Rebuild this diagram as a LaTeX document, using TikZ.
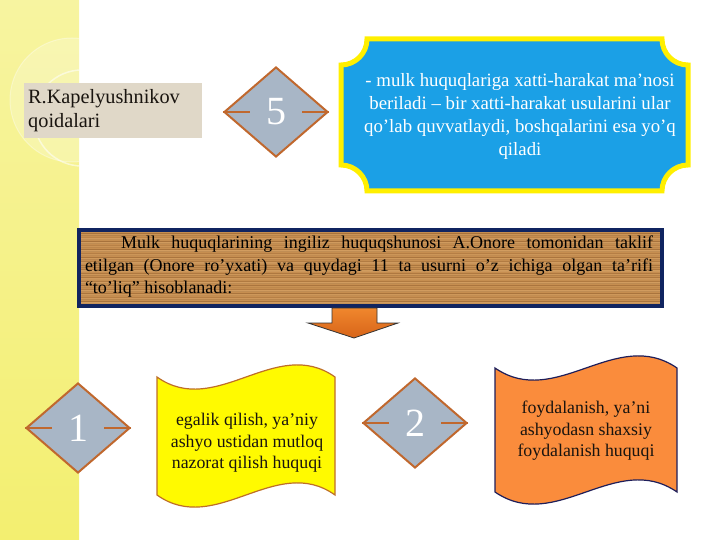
\documentclass[tikz,border=0pt]{standalone}
\usepackage{fontspec}
\setmainfont{Liberation Serif}
\usetikzlibrary{shapes.geometric}
\definecolor{stripY}{RGB}{243,239,112}
\definecolor{stripL}{RGB}{247,244,160}
\definecolor{diaFill}{RGB}{168,182,198}
\definecolor{diaEdge}{RGB}{192,104,46}
\definecolor{plaqueBlue}{RGB}{27,160,230}
\definecolor{plaqueEdge}{RGB}{255,239,0}
\definecolor{woodA}{RGB}{198,142,80}
\definecolor{woodD}{RGB}{130,80,35}
\definecolor{woodL}{RGB}{228,180,120}
\definecolor{navyEdge}{RGB}{16,36,96}
\definecolor{beige}{RGB}{224,216,200}
\definecolor{waveY}{RGB}{255,250,0}
\definecolor{waveYEdge}{RGB}{190,110,40}
\definecolor{waveO}{RGB}{250,140,60}
\definecolor{waveOEdge}{RGB}{30,30,90}
\definecolor{arrO}{RGB}{240,135,45}
\definecolor{arrOD}{RGB}{215,100,25}
\definecolor{txtDark}{RGB}{25,20,15}
\begin{document}
\begin{tikzpicture}[x=1pt,y=-1pt,
  diabox/.style={diamond, draw=diaEdge, fill=diaFill, line width=2pt,
    minimum width=104, minimum height=90, inner sep=0pt, text=white,
    font=\fontsize{40}{44}\selectfont},
  dline/.style={diaEdge, line width=2.4pt},
  bodytxt/.style={text=txtDark, align=center, font=\fontsize{17.8}{21.5}\selectfont}]
\useasboundingbox (0,0) rectangle (720,540);

% left strip
\begin{scope}
  \clip (0,0) rectangle (79,540);
  \shade[top color=stripL, bottom color=stripY] (0,0) rectangle (79,540);
  \fill[white, opacity=0.22] (72,100) circle (62);
  \draw[white, opacity=0.55, line width=1.5pt] (82,118) circle (48);
  \draw[white, opacity=0.35, line width=1pt] (72,100) circle (62);
\end{scope}

% Kapelyushnikov box
\node[fill=beige, minimum width=178, minimum height=55, anchor=north west,
  text width=170, align=left, inner sep=4pt, text=txtDark,
  font=\fontsize{20.3}{23.5}\selectfont] (kap) at (24,83) {R.Kapelyushnikov\\qoidalari};

% diamonds
\node[diabox] (d5) at (276,112) {5};
\draw[dline] (d5.west) -- ++(27,0);
\draw[dline] (d5.east) -- ++(-27,0);

\node[diabox] (d1) at (78,428) {1};
\draw[dline] (d1.west) -- ++(27,0);
\draw[dline] (d1.east) -- ++(-27,0);

\node[diabox] (d2) at (415,423) {2};
\draw[dline] (d2.west) -- ++(27,0);
\draw[dline] (d2.east) -- ++(-27,0);

% blue plaque
\draw[fill=plaqueBlue, draw=plaqueEdge, line width=5pt]
  (367,39) -- (662,39) arc(180:90:26) -- (688,165) arc(270:180:26)
  -- (367,191) arc(0:-90:26) -- (341,65) arc(90:0:26) -- cycle;
\node[text=white, align=center, font=\fontsize{18.8}{23}\selectfont] (bluetxt) at (520,116)
  {- mulk huquqlariga xatti-harakat ma’nosi\\beriladi – bir xatti-harakat usularini ular\\qo’lab quvvatlaydi, boshqalarini esa yo’q\\qiladi};

% wood box
\begin{scope}
  \clip (77,228) rectangle (660,304);
  \fill[woodA] (77,228) rectangle (660,304);
  \foreach \k in {0,...,37} {
    \pgfmathsetmacro\yy{229+2*\k}
    \pgfmathsetmacro\op{0.10+0.35*abs(sin(\k*137))}
    \draw[woodD, opacity=\op, line width=0.9pt] (77,\yy) -- (660,\yy);
  }
  \foreach \k in {0,...,18} {
    \pgfmathsetmacro\yy{230+4*\k+1}
    \pgfmathsetmacro\op{0.10+0.30*abs(cos(\k*71))}
    \draw[woodL, opacity=\op, line width=1.2pt] (77,\yy) -- (660,\yy);
  }
\end{scope}
\node[draw=navyEdge, line width=4pt, minimum width=583, minimum height=76,
  anchor=north west, inner sep=0pt] (wood) at (77,228) {};
\node[text width=568, align=justify, inner sep=0pt, text=black,
  font=\fontsize{18}{22.5}\selectfont] (woodtxt) at (369,267)
  {\hspace*{36pt}Mulk huquqlarining ingiliz huquqshunosi A.Onore tomonidan taklif\linebreak
   etilgan (Onore ro’yxati) va quydagi 11 ta usurni o’z ichiga olgan ta’rifi\linebreak
   “to’liq” hisoblanadi:};

% down block arrow
\draw[top color=arrO, bottom color=arrOD, draw=black!80, line width=0.8pt]
  (332,308) -- (377,308) -- (377,323) -- (398,323) -- (354,338) -- (308,323)
  -- (332,323) -- cycle;

% yellow wave
\draw[fill=waveY, draw=waveYEdge, line width=1.2pt]
  (157,377) .. controls (216,419) and (276,335) .. (335,377)
  -- (335,495) .. controls (276,453) and (216,537) .. (157,495) -- cycle;
\node[bodytxt] (ytxt) at (247,443)
  {egalik qilish, ya’niy\\ashyo ustidan mutloq\\nazorat qilish huquqi};

% orange wave
\draw[fill=waveO, draw=waveOEdge, line width=1.2pt]
  (495,368) .. controls (556,410) and (616,326) .. (677,368)
  -- (677,492) .. controls (616,450) and (556,534) .. (495,492) -- cycle;
\node[bodytxt] (otxt) at (586,431)
  {foydalanish, ya’ni\\ashyodasn shaxsiy\\foydalanish huquqi};

\end{tikzpicture}
\end{document}
